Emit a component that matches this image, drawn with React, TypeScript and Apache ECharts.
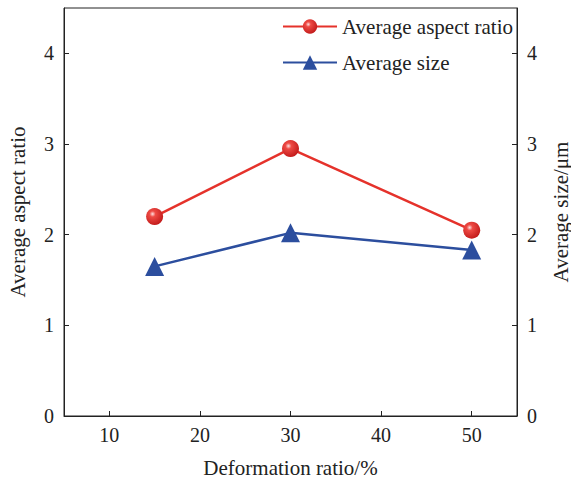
import React, { useEffect, useRef } from "react";
import * as echarts from "echarts";

const deformation = [15, 30, 50];
const aspectRatio = [2.2, 2.95, 2.05];
const avgSize = [1.65, 2.02, 1.83];
const xTicks = [10, 20, 30, 40, 50];
const yTicks = [0, 1, 2, 3, 4];

const FONT = "Liberation Serif";

export default function App() {
  const ref = useRef<HTMLDivElement>(null);
  useEffect(() => {
    if (!ref.current) return;
    const chart = echarts.init(ref.current, undefined, { renderer: "svg" });
    const red = "#e5322b";
    const blue = "#2c4e9e";
    const sphere = {
      type: "radial",
      x: 0.38,
      y: 0.35,
      r: 0.7,
      colorStops: [
        { offset: 0, color: "#ffe0e0" },
        { offset: 0.25, color: "#ee4a44" },
        { offset: 1, color: "#c01818" },
      ],
    };
    const axisCommon = {
      axisLine: { show: true, lineStyle: { color: "#222", width: 1 } },
      axisTick: { show: true, inside: true, length: 5, lineStyle: { color: "#222" } },
      splitLine: { show: false },
      axisLabel: { color: "#222", fontFamily: FONT, fontSize: 20 },
      nameTextStyle: { color: "#222", fontFamily: FONT, fontSize: 21 },
      nameMoveOverlap: false,
    };
    chart.setOption({
      animation: false,
      backgroundColor: "#fff",
      textStyle: { fontFamily: FONT },
      grid: {
        left: 64,
        right: 54,
        top: 8,
        bottom: 66,
        show: true,
        borderColor: "#222",
        borderWidth: 1,
        containLabel: false,
        outerBoundsMode: "none",
      },
      legend: {
        orient: "vertical",
        left: 277,
        top: 11,
        itemWidth: 54,
        itemHeight: 18,
        itemGap: 15,
        textStyle: { fontFamily: FONT, fontSize: 21, color: "#222" },
        data: ["Average aspect ratio", "Average size"],
      },
      xAxis: {
        type: "value",
        min: 5,
        max: 55,
        name: "Deformation ratio/%",
        nameLocation: "middle",
        nameGap: 41,
        ...axisCommon,
        axisTick: { ...axisCommon.axisTick, customValues: xTicks },
        axisLabel: { ...axisCommon.axisLabel, customValues: xTicks, margin: 9 },
      },
      yAxis: [
        {
          type: "value",
          min: 0,
          max: 4.5,
          position: "left",
          name: "Average aspect ratio",
          nameLocation: "middle",
          nameGap: 36,
          ...axisCommon,
          axisTick: { ...axisCommon.axisTick, customValues: yTicks },
          axisLabel: { ...axisCommon.axisLabel, customValues: yTicks, margin: 10 },
        },
        {
          type: "value",
          min: 0,
          max: 4.5,
          position: "right",
          name: "Average size/μm",
          nameLocation: "middle",
          nameGap: 33,
          nameRotate: 90,
          ...axisCommon,
          axisTick: { ...axisCommon.axisTick, customValues: yTicks },
          axisLabel: { ...axisCommon.axisLabel, customValues: yTicks, margin: 10 },
        },
      ],
      series: [
        {
          name: "Average aspect ratio",
          type: "line",
          yAxisIndex: 0,
          data: deformation.map((x, i) => [x, aspectRatio[i]]),
          symbol: "circle",
          symbolSize: 17,
          lineStyle: { color: red, width: 2.5 },
          itemStyle: { color: sphere as any, borderWidth: 0 },
        },
        {
          name: "Average size",
          type: "line",
          yAxisIndex: 1,
          data: deformation.map((x, i) => [x, avgSize[i]]),
          symbol: "triangle",
          symbolSize: 19,
          lineStyle: { color: blue, width: 2.5 },
          itemStyle: { color: blue, borderWidth: 0 },
        },
      ],
    });
    return () => chart.dispose();
  }, []);
  return (
    <div
      ref={ref}
      style={{ position: "fixed", left: 0, top: 0, width: 571, height: 482 }}
    />
  );
}
